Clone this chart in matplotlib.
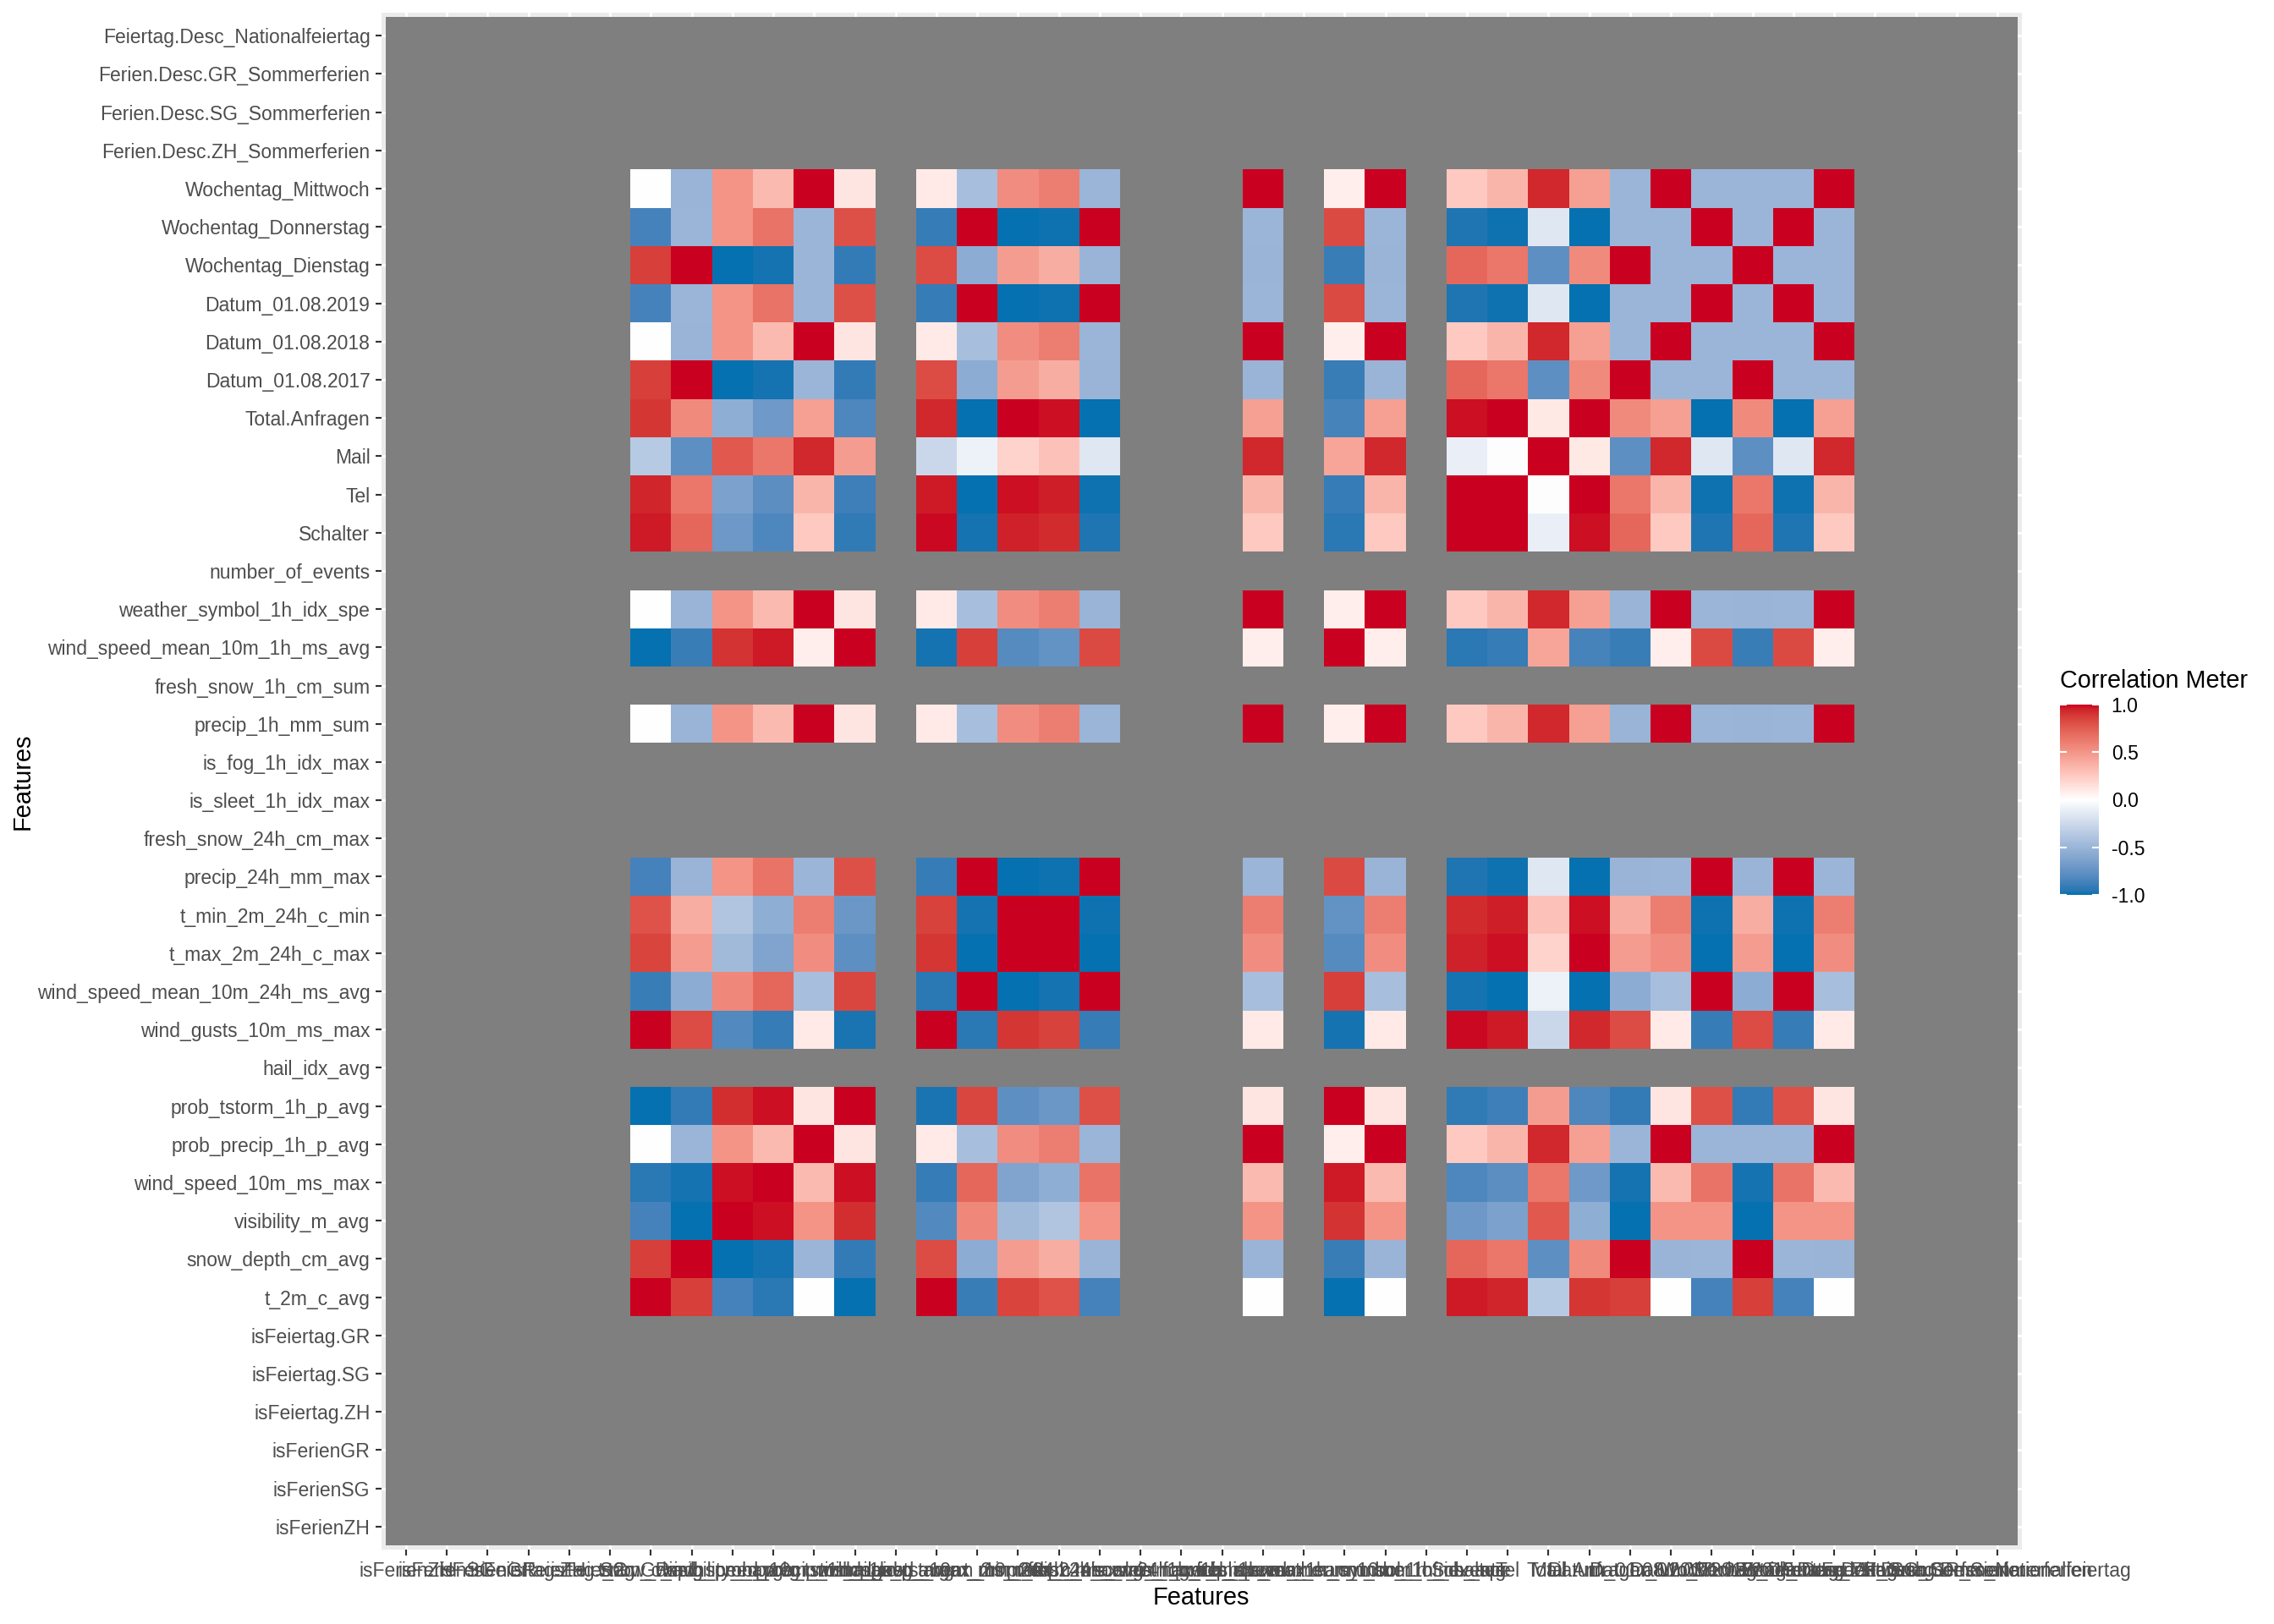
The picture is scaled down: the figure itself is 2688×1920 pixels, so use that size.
import numpy as np
import matplotlib
matplotlib.use("Agg")
import matplotlib.pyplot as plt
from matplotlib.colors import ListedColormap, Normalize, to_rgb

plt.rcParams['font.family'] = ['Liberation Sans', 'DejaVu Sans']

# feature columns, in the order of the axes (x left->right, y bottom->top)
features = [
    "isFerienZH", "isFerienSG", "isFerienGR", "isFeiertag.ZH", "isFeiertag.SG", "isFeiertag.GR",
    "t_2m_c_avg", "snow_depth_cm_avg", "visibility_m_avg", "wind_speed_10m_ms_max",
    "prob_precip_1h_p_avg", "prob_tstorm_1h_p_avg", "hail_idx_avg", "wind_gusts_10m_ms_max",
    "wind_speed_mean_10m_24h_ms_avg", "t_max_2m_24h_c_max", "t_min_2m_24h_c_min",
    "precip_24h_mm_max", "fresh_snow_24h_cm_max", "is_sleet_1h_idx_max", "is_fog_1h_idx_max",
    "precip_1h_mm_sum", "fresh_snow_1h_cm_sum", "wind_speed_mean_10m_1h_ms_avg",
    "weather_symbol_1h_idx_spe", "number_of_events", "Schalter", "Tel", "Mail", "Total.Anfragen",
    "Datum_01.08.2017", "Datum_01.08.2018", "Datum_01.08.2019", "Wochentag_Dienstag",
    "Wochentag_Donnerstag", "Wochentag_Mittwoch", "Ferien.Desc.ZH_Sommerferien",
    "Ferien.Desc.SG_Sommerferien", "Ferien.Desc.GR_Sommerferien", "Feiertag.Desc_Nationalfeiertag",
]

# one observation (row of the data frame) per date
day_2017 = [1, 1, 1, 1, 1, 1,
            22.5, 3.0, 28000, 2.6, 5, 2.5, 0, 11.3, 2.1, 28.9, 15.6, 0.0, 0, 0, 0,
            0.0, 0, 1.8, 2, 0, 123, 352, 47, 522,
            1, 0, 0, 1, 0, 0, 1, 1, 1, 1]
day_2018 = [1, 1, 1, 1, 1, 1,
            20.0, 0.0, 35000, 5.8, 35, 11.0, 0, 8.4, 2.3, 29.2, 16.5, 0.0, 0, 0, 0,
            1.2, 0, 4.2, 5, 0, 108, 328, 75, 511,
            0, 1, 0, 0, 0, 1, 1, 1, 1, 1]
day_2019 = [1, 1, 1, 1, 1, 1,
            17.5, 0.0, 35000, 6.6, 5, 16.5, 0, 4.3, 4.6, 22.9, 9.9, 6.0, 0, 0, 0,
            0.0, 0, 6.0, 2, 0, 68, 220, 57, 345,
            0, 0, 1, 0, 1, 0, 1, 1, 1, 1]

obs = np.array([day_2017, day_2018, day_2019], dtype=float)
with np.errstate(invalid="ignore", divide="ignore"):
    corr = np.corrcoef(obs, rowvar=False)

# diverging scale interpolated in Lab space like ggplot's gradient2
M = np.array([[0.4124, 0.3576, 0.1805], [0.2126, 0.7152, 0.0722], [0.0193, 0.1192, 0.9505]])
WHITE = np.array([0.95047, 1.0, 1.08883])

def to_lab(col):
    rgb = np.array(to_rgb(col))
    lin = np.where(rgb <= 0.04045, rgb / 12.92, ((rgb + 0.055) / 1.055) ** 2.4)
    xyz = M @ lin / WHITE
    f = np.where(xyz > 0.008856, np.cbrt(xyz), 7.787 * xyz + 16 / 116)
    return np.array([116 * f[1] - 16, 500 * (f[0] - f[1]), 200 * (f[1] - f[2])])

def from_lab(lab):
    fy = (lab[0] + 16) / 116
    f = np.array([fy + lab[1] / 500, fy, fy - lab[2] / 200])
    xyz = np.where(f > 0.2069, f ** 3, (f - 16 / 116) / 7.787) * WHITE
    lin = np.clip(np.linalg.inv(M) @ xyz, 0, None)
    rgb = np.where(lin <= 0.0031308, 12.92 * lin, 1.055 * lin ** (1 / 2.4) - 0.055)
    return np.clip(rgb, 0, 1)

low, mid, high = to_lab("#0571B0"), to_lab("#FFFFFF"), to_lab("#CA0020")
cols = []
for t in np.linspace(-1, 1, 256):
    if t < 0:
        cols.append(from_lab(low + (mid - low) * (t + 1)))
    else:
        cols.append(from_lab(mid + (high - mid) * t))
cmap = ListedColormap(cols)
cmap.set_bad("#7F7F7F")

fig = plt.figure(figsize=(14, 10), dpi=192)
ax = fig.add_axes([451 / 2688, 1 - 1832 / 1920, 1939 / 2688, 1817 / 1920])
ax.set_facecolor("#EBEBEB")
ax.grid(True, color="white", linewidth=1.0)
ax.set_axisbelow(True)

n = len(features)
edges = np.arange(n + 1) - 0.5
mesh = ax.pcolormesh(edges, edges, np.ma.masked_invalid(corr), cmap=cmap,
                     norm=Normalize(-1, 1), antialiased=False)
ax.set_xlim(-0.6, n - 0.4)
ax.set_ylim(-0.6, n - 0.4)
for s in ax.spines.values():
    s.set_visible(False)

ax.set_xticks(range(n))
ax.set_yticks(range(n))
ax.set_xticklabels(features, fontsize=8.6, color="#4D4D4D")
ax.set_yticklabels(features, fontsize=8.6, color="#4D4D4D")
ax.tick_params(length=2.6, width=0.8, color="#333333", pad=2.5)

fig.text(1420 / 2688, 1 - 1889 / 1920, "Features", fontsize=10.9, ha="center", va="center")
fig.text(27 / 2688, 0.519, "Features", fontsize=10.9, ha="center", va="center", rotation=90)

# legend
cax = fig.add_axes([2435 / 2688, 1 - 1058 / 1920, 46 / 2688, 225 / 1920])
cb = fig.colorbar(mesh, cax=cax)
cb.outline.set_visible(False)
cb.set_ticks([-1, -0.5, 0, 0.5, 1])
cb.set_ticklabels(["-1.0", "-0.5", "0.0", "0.5", "1.0"])
cax.yaxis.set_ticks_position("both")
cax.tick_params(direction="in", length=3, width=0.8, color="white", labelsize=8.6,
                labelcolor="black", pad=5.5, labelleft=False, labelright=True)
fig.text(2435 / 2688, 1 - 813 / 1920, "Correlation Meter", fontsize=10.8, ha="left", va="baseline")

fig.savefig("out.png", dpi=192, facecolor="white")
